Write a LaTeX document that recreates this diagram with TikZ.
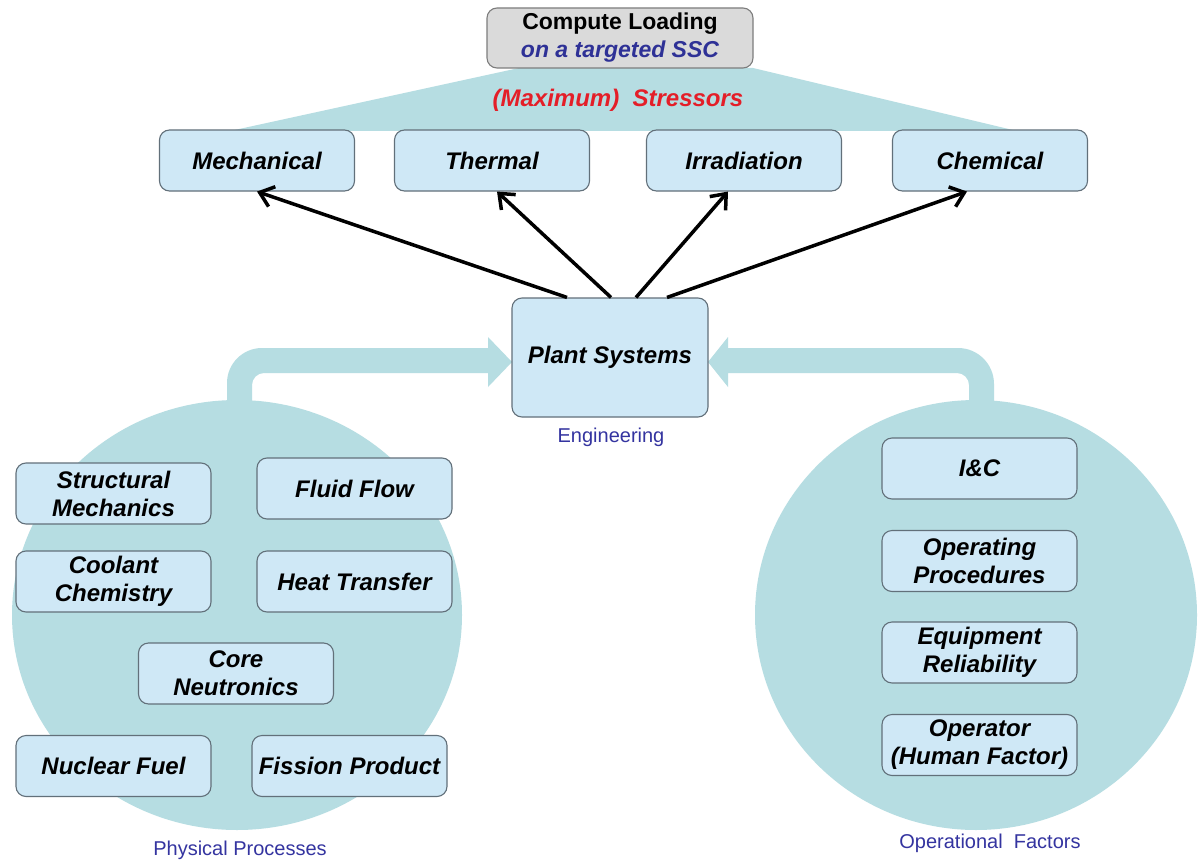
\documentclass[tikz,border=0pt]{standalone}
\usepackage{fontspec}
\setmainfont{Liberation Sans}
\usetikzlibrary{arrows.meta}

\definecolor{bandteal}{RGB}{182,221,226}
\definecolor{boxfill}{RGB}{207,232,246}
\definecolor{boxline}{RGB}{98,112,122}
\definecolor{topfill}{RGB}{218,218,218}
\definecolor{topline}{RGB}{125,125,125}
\definecolor{ssblue}{RGB}{46,49,150}
\definecolor{stressred}{RGB}{228,30,40}
\definecolor{groupblue}{RGB}{52,52,160}

\begin{document}
\begin{tikzpicture}[x=1pt,y=-1pt,
  box/.style={draw=boxline, fill=boxfill, line width=1.1pt, rounded corners=10pt,
    minimum width=195pt, minimum height=61pt, inner sep=0pt, align=center,
    font=\bfseries\itshape\fontsize{24}{28}\selectfont},
  grouplabel/.style={text=groupblue, inner sep=0pt, font=\fontsize{20}{24}\selectfont},
  stressarrow/.style={line width=3.5pt, -{Straight Barb[length=13pt,width=21pt]}},
  band/.style={fill=bandteal}]

\useasboundingbox (0,0) rectangle (1198,861);
\fill[white] (0,0) rectangle (1198,861);

% teal fan below the loading box
\fill[band] (519,68) -- (753,68) -- (1017,131) -- (230,131) -- cycle;

% bent arrow from the physical processes group
\fill[band] (227,410) -- (227,383) .. controls (227,363.7) and (242.7,348) .. (262,348)
  -- (488,348) -- (488,337) -- (512,362) -- (488,387) -- (488,373) -- (264,373)
  .. controls (257.4,373) and (252,378.4) .. (252,385) -- (252,410) -- cycle;

% bent arrow from the operational factors group
\fill[band] (994,410) -- (994,384) .. controls (994,364.1) and (977.9,348) .. (958,348)
  -- (728,348) -- (728,337) -- (708,362) -- (728,387) -- (728,373) -- (957,373)
  .. controls (963.6,373) and (969,378.4) .. (969,385) -- (969,410) -- cycle;

% the two groups
\fill[band] (237,615) ellipse [x radius=225pt, y radius=215pt];
\fill[band] (976,615) ellipse [x radius=221pt, y radius=215pt];

% loading box
\node[draw=topline, fill=topfill, line width=1.1pt, rounded corners=10pt,
  minimum width=266pt, minimum height=60pt, inner sep=0pt, align=center,
  font=\bfseries\fontsize{23}{28}\selectfont] (load) at (620,38)
  {Compute Loading\\{\itshape\color{ssblue}on a targeted SSC}};

\node[text=stressred, font=\bfseries\itshape\fontsize{24}{28}\selectfont] (stress) at (618,100)
  {(Maximum)\ \ Stressors};

% stressors
\node[box] (mech)  at (257,160.5) {Mechanical};
\node[box] (therm) at (492,160.5) {Thermal};
\node[box] (irr)   at (744,160.5) {Irradiation};
\node[box] (chem)  at (990,160.5) {Chemical};

% plant systems
\node[box, minimum width=196pt, minimum height=119pt] (plant) at (610,357.5) {Plant Systems};
\node[grouplabel] (eng) at (611,437) {Engineering};

% physical processes
\node[box] (struct)  at (113.5,493.5) {Structural\\Mechanics};
\node[box] (fluid)   at (354.5,488.5) {Fluid Flow};
\node[box] (coolant) at (113.5,581.5) {Coolant\\Chemistry};
\node[box] (heat)    at (354.5,581.5) {Heat Transfer};
\node[box] (core)    at (236,673.5)   {Core\\Neutronics};
\node[box] (fuel)    at (113.5,766)   {Nuclear Fuel};
\node[box] (fission) at (349.5,766)   {Fission Product};
\node[grouplabel] (phys) at (240,850) {Physical Processes};

% operational factors
\node[box] (ic)       at (979.5,468.5) {I\&C};
\node[box] (opproc)   at (979.5,561)   {Operating\\Procedures};
\node[box] (equip)    at (979.5,652.5) {Equipment\\Reliability};
\node[box] (operator) at (979.5,745)   {Operator\\(Human Factor)};
\node[grouplabel] (opf) at (990,843) {Operational\ \ Factors};

% plant systems drive the stressors
\draw[stressarrow] ([xshift=-43pt]plant.north) -- (mech.south);
\draw[stressarrow] ([xshift=1pt]plant.north)   -- ([xshift=5pt]therm.south);
\draw[stressarrow] ([xshift=26pt]plant.north)  -- ([xshift=-16pt]irr.south);
\draw[stressarrow] ([xshift=57pt]plant.north)  -- ([xshift=-23pt]chem.south);

\end{tikzpicture}
\end{document}
